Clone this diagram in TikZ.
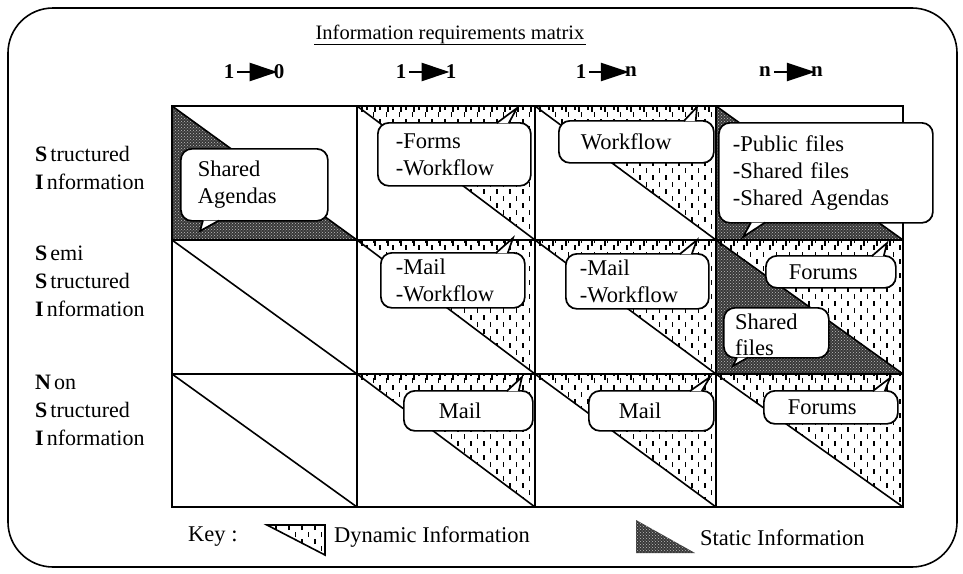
\documentclass[tikz,border=0pt]{standalone}
\usepackage{fontspec}
\setmainfont{Liberation Serif}
\usetikzlibrary{patterns,arrows.meta}

% little vertical dashes for the dynamic part of a cell
\pgfdeclarepatternformonly{vticks}{\pgfqpoint{-1pt}{-1pt}}{\pgfqpoint{14pt}{15pt}}{\pgfqpoint{13pt}{14pt}}{%
  \pgfsetlinewidth{1.2pt}
  \pgfpathmoveto{\pgfqpoint{3pt}{1pt}}\pgfpathlineto{\pgfqpoint{3pt}{6pt}}
  \pgfpathmoveto{\pgfqpoint{9.5pt}{8pt}}\pgfpathlineto{\pgfqpoint{9.5pt}{13pt}}
  \pgfusepath{stroke}}

\tikzset{
  gridline/.style={line width=2pt},
  diag/.style={line width=1.6pt},
  dynamic/.style={pattern=vticks},
  static/.style={fill=black!78, postaction={pattern=crosshatch dots, pattern color=white!75!black}},
  comb/.style={line width=1.2pt},
  bubble/.style={draw, line width=1.7pt, fill=white, rounded corners=11pt, inner ysep=0pt,
    align=left, anchor=north west, font=\fontsize{22.5}{27}\selectfont},
  tail/.style={draw, line width=1.7pt, fill=white},
  rowlabel/.style={anchor=west, align=left, inner sep=0pt, font=\fontsize{22}{28}\selectfont},
  hdr/.style={inner sep=0pt, font=\fontsize{21}{24}\selectfont\bfseries},
  hdrarrow/.style={line width=2.4pt, -{Triangle[length=28pt,width=18pt]}, shorten <=3pt, shorten >=-4pt},
  keytext/.style={anchor=west, inner sep=0pt, font=\fontsize{22.5}{26}\selectfont},
}

\begin{document}
\begin{tikzpicture}[x=1pt,y=-1pt]
  \useasboundingbox (0,0) rectangle (963,573);
  \draw[line width=1.6pt, rounded corners=45pt] (8,8) rectangle (957,567);

  % title and column heads
  \node[inner sep=1pt, font=\fontsize{20.5}{24}\selectfont] (title) at (450,34) {Information requirements matrix};
  \draw[line width=1.4pt] (title.south west) -- (title.south east);

  \node[hdr] (h0a) at (229,72) {1};  \node[hdr] (h0b) at (279,72) {0};
  \node[hdr] (h1a) at (401,72) {1};  \node[hdr] (h1b) at (451,72) {1};
  \node[hdr] (h2a) at (581,72) {1};  \node[hdr] (h2b) at (631,72) {n};
  \node[hdr] (h3a) at (765,72) {n};  \node[hdr] (h3b) at (817,72) {n};
  \draw[hdrarrow] (h0a) -- (h0b);
  \draw[hdrarrow] (h1a) -- (h1b);
  \draw[hdrarrow] (h2a) -- (h2b);
  \draw[hdrarrow] (h3a) -- (h3b);

  % row heads
  \node[rowlabel] (r1) at (35,168) {\textbf{S}\kern3pt tructured\\\textbf{I}\kern3pt nformation};
  \node[rowlabel] (r2) at (35,281) {\textbf{S}\kern3pt emi\\\textbf{S}\kern3pt tructured\\\textbf{I}\kern3pt nformation};
  \node[rowlabel] (r3) at (35,410) {\textbf{N}\kern3pt on\\\textbf{S}\kern3pt tructured\\\textbf{I}\kern3pt nformation};

  % static parts
  \fill[static] (172,106) -- (172,240) -- (357,240) -- cycle;
  \fill[static] (716,106) -- (716,240) -- (903,240) -- cycle;
  \fill[static] (716,240) -- (716,374) -- (903,374) -- cycle;

  % dynamic parts
  \foreach \xa/\xb in {357/535,535/716}
    \foreach \ya/\yb in {106/240,240/374,374/507} {
      \fill[dynamic] (\xa,\ya) -- (\xb,\ya) -- (\xb,\yb) -- cycle;
      \foreach \t in {5,18,...,174} \draw[comb] (\xa+\t,\ya) -- ++(0,6);
    }
  \foreach \ya/\yb in {240/374,374/507} {
    \fill[dynamic] (716,\ya) -- (903,\ya) -- (903,\yb) -- cycle;
    \foreach \t in {5,18,...,174} \draw[comb] (716+\t,\ya) -- ++(0,6);
  }

  % grid and diagonals
  \foreach \xa/\xb in {172/357,357/535,535/716,716/903}
    \foreach \ya/\yb in {106/240,240/374,374/507}
      \draw[diag] (\xa,\ya) -- (\xb,\yb);
  \draw[gridline] (172,106) rectangle (903,507);
  \foreach \x in {357,535,716} \draw[gridline] (\x,106) -- (\x,507);
  \foreach \y in {240,374} \draw[gridline] (172,\y) -- (903,\y);

  % bubbles
  \node[bubble, minimum width=147pt, minimum height=72pt, inner xsep=17pt, text width=113pt] (sa) at (180,148) {Shared\\Agendas};
  \draw[tail] ([xshift=23pt,yshift=1.2pt]sa.south west) -- (200,231) -- ([xshift=39pt,yshift=1.2pt]sa.south west);

  \node[bubble, minimum width=153pt, minimum height=63pt, inner xsep=18pt, text width=117pt] (fw) at (377,122) {-Forms\\-Workflow};
  \draw[tail] ([xshift=-35pt,yshift=-1.2pt]fw.north east) -- (517,108) -- ([xshift=-23pt,yshift=-1.2pt]fw.north east);

  \node[bubble, minimum width=155pt, minimum height=42pt, inner xsep=22pt, text width=111pt] (wf) at (558,120) {Workflow};
  \draw[tail] ([xshift=-31pt,yshift=-1.2pt]wf.north east) -- (697,107) -- ([xshift=-19pt,yshift=-1.2pt]wf.north east);

  \node[bubble, minimum width=214pt, minimum height=100pt, inner xsep=14pt, text width=186pt] (pf) at (718,122) {-Public files\\-Shared files\\-Shared Agendas};
  \draw[tail] ([xshift=33pt,yshift=1.2pt]pf.south west) -- (743,237) -- ([xshift=47pt,yshift=1.2pt]pf.south west);

  \node[bubble, minimum width=144pt, minimum height=55pt, inner xsep=15pt, text width=114pt] (mw2) at (380,252) {-Mail\\-Workflow};
  \draw[tail] ([xshift=-30pt,yshift=-1.2pt]mw2.north east) -- (513,238) -- ([xshift=-18pt,yshift=-1.2pt]mw2.north east);

  \node[bubble, minimum width=143pt, minimum height=55pt, inner xsep=14pt, text width=115pt] (mw3) at (565,253) {-Mail\\-Workflow};
  \draw[tail] ([xshift=-30pt,yshift=-1.2pt]mw3.north east) -- (697,240) -- ([xshift=-18pt,yshift=-1.2pt]mw3.north east);

  \node[bubble, minimum width=130pt, minimum height=32pt, inner xsep=23pt, text width=84pt] (fo2) at (765,255) {Forums};
  \draw[tail] ([xshift=-25pt,yshift=-1.2pt]fo2.north east) -- (887,243) -- ([xshift=-13pt,yshift=-1.2pt]fo2.north east);

  \node[bubble, minimum width=105pt, minimum height=50pt] (sf) at (723,307) {};
  \draw[tail] ([xshift=14pt,yshift=1.2pt]sf.south west) -- (733,366) -- ([xshift=25pt,yshift=1.2pt]sf.south west);
  \node[anchor=north west, align=left, inner sep=0pt, font=\fontsize{22.5}{26}\selectfont] (sft) at (735,314) {Shared\\files};

  \node[bubble, minimum width=129pt, minimum height=40pt, inner xsep=35pt, text width=59pt] (ml2) at (403,390) {Mail};
  \draw[tail] ([xshift=-27pt,yshift=-1.2pt]ml2.north east) -- (522,377) -- ([xshift=-15pt,yshift=-1.2pt]ml2.north east);

  \node[bubble, minimum width=125pt, minimum height=40pt, inner xsep=30pt, text width=65pt] (ml3) at (588,390) {Mail};
  \draw[tail] ([xshift=-25pt,yshift=-1.2pt]ml3.north east) -- (710,377) -- ([xshift=-13pt,yshift=-1.2pt]ml3.north east);

  \node[bubble, minimum width=134pt, minimum height=33pt, inner xsep=24pt, text width=86pt] (fo3) at (763,390) {Forums};
  \draw[tail] ([xshift=-26pt,yshift=-1.2pt]fo3.north east) -- (890,378) -- ([xshift=-14pt,yshift=-1.2pt]fo3.north east);

  % key
  \node[keytext] (key) at (188,537) {Key :};
  \draw[dynamic, line width=1.6pt] (267,525) -- (325,525) -- (325,555) -- cycle;
  \node[keytext] (dyn) at (334,537) {Dynamic Information};
  \fill[static] (636,520) -- (636,553) -- (695,553) -- cycle;
  \node[keytext] (stat) at (700,538) {Static Information};
\end{tikzpicture}
\end{document}
